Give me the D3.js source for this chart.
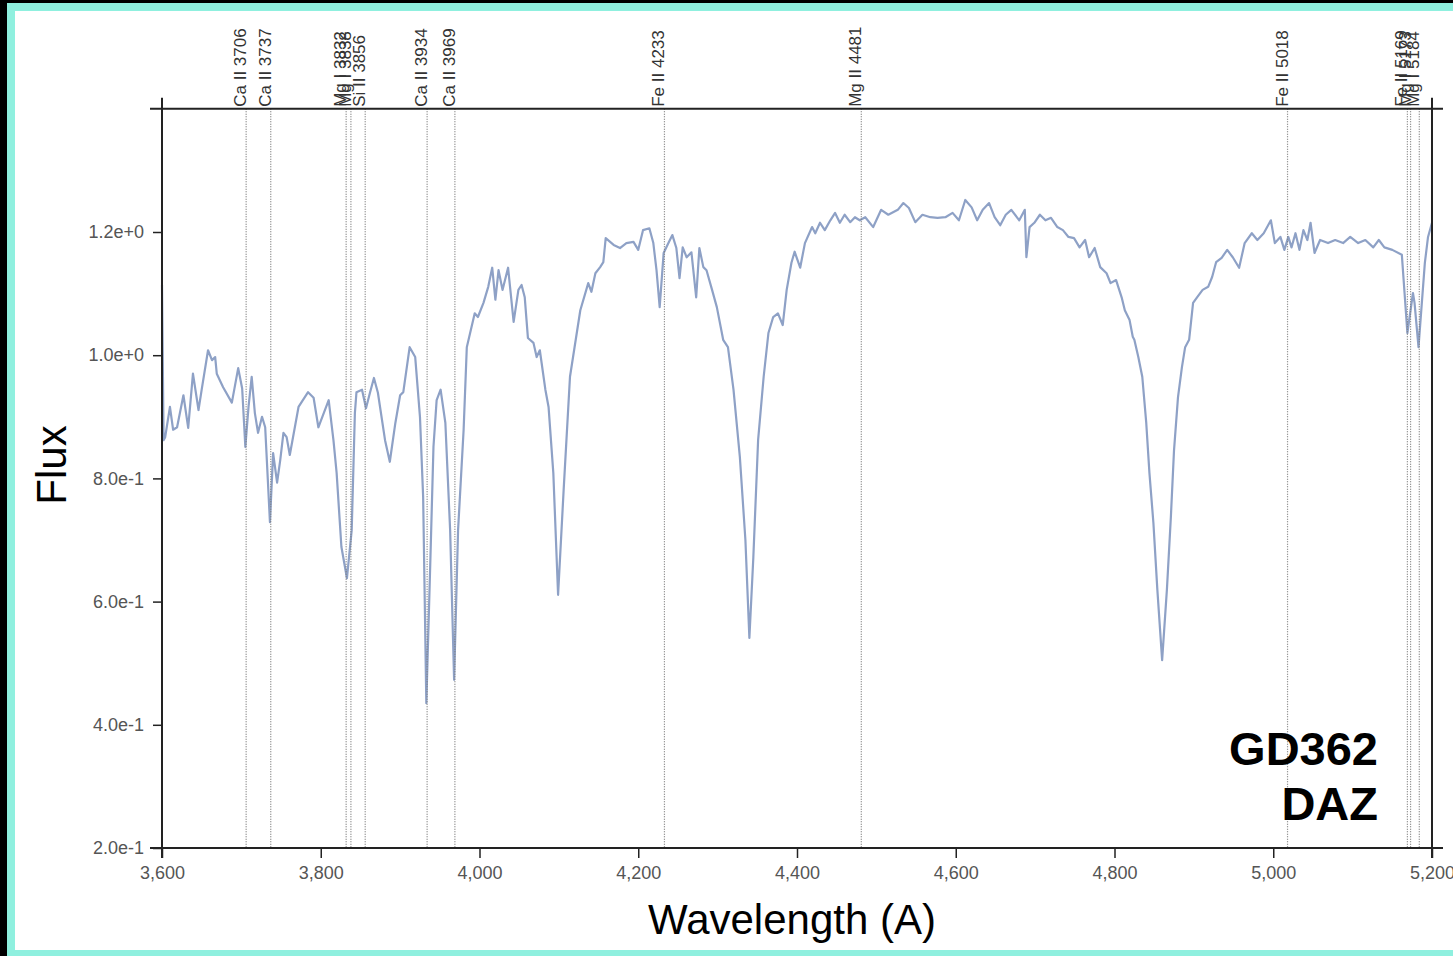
<!DOCTYPE html>
<html>
<head>
<meta charset="utf-8">
<script src="https://cdn.jsdelivr.net/npm/d3@7"></script>
<style>
  html, body { margin: 0; padding: 0; background: #000; }
  svg { display: block; }
  text { font-family: "Liberation Sans", Arial, Helvetica, sans-serif; }
</style>
</head>
<body>
<svg id="chart" width="1453" height="956"></svg>
<script>
// Spectrum of GD362 (wavelength in Angstrom, normalised flux)
const wavelength = [
  3600, 3602, 3604, 3610, 3614, 3619, 3627, 3633, 3639, 3646, 3650, 3658, 3663, 3667, 3669, 3677,
  3688, 3696, 3701, 3705, 3709, 3713, 3717, 3721, 3726, 3730, 3736, 3740, 3745, 3749, 3753, 3757,
  3761, 3772, 3784, 3791, 3797, 3810, 3816, 3820, 3826, 3833, 3839, 3843, 3845, 3852, 3857, 3862,
  3867, 3872, 3881, 3887, 3894, 3900, 3904, 3912, 3919, 3925, 3929, 3933, 3938, 3942, 3946, 3951,
  3957, 3963, 3968, 3973, 3980, 3984, 3994, 3998, 4005, 4011, 4016, 4020, 4024, 4029, 4036, 4043,
  4049, 4053, 4057, 4061, 4068, 4072, 4076, 4083, 4087, 4093, 4099, 4106, 4114, 4127, 4137, 4141,
  4146, 4152, 4156, 4159, 4169, 4177, 4185, 4194, 4200, 4206, 4214, 4219, 4223, 4227, 4232, 4238,
  4243, 4248, 4252, 4256, 4261, 4267, 4273, 4277, 4282, 4286, 4293, 4299, 4307, 4313, 4320, 4328,
  4335, 4340, 4345, 4351, 4358, 4364, 4370, 4376, 4382, 4387, 4393, 4397, 4404, 4410, 4419, 4423,
  4429, 4435, 4442, 4448, 4454, 4460, 4467, 4473, 4479, 4486, 4496, 4506, 4515, 4527, 4534, 4541,
  4549, 4558, 4568, 4577, 4587, 4596, 4604, 4612, 4620, 4627, 4634, 4642, 4649, 4656, 4663, 4670,
  4680, 4687, 4689, 4693, 4699, 4706, 4713, 4720, 4728, 4735, 4742, 4749, 4756, 4763, 4768, 4775,
  4782, 4790, 4795, 4802, 4809, 4813, 4819, 4823, 4825, 4830, 4835, 4840, 4844, 4849, 4854, 4860,
  4866, 4871, 4875, 4880, 4885, 4889, 4894, 4899, 4904, 4911, 4918, 4923, 4928, 4935, 4942, 4949,
  4957, 4964, 4973, 4980, 4988, 4997, 5002, 5009, 5014, 5019, 5023, 5028, 5033, 5038, 5043, 5047,
  5052, 5059, 5069, 5078, 5088, 5097, 5107, 5116, 5126, 5133, 5140, 5150, 5162, 5169, 5176, 5178,
  5183, 5191, 5195, 5200
];
const flux = [
  1.114, 0.862, 0.867, 0.916, 0.879, 0.883, 0.935, 0.882, 0.970, 0.911, 0.944, 1.008, 0.992, 0.997, 0.970, 0.948,
  0.923, 0.979, 0.946, 0.851, 0.916, 0.965, 0.906, 0.874, 0.900, 0.883, 0.729, 0.841, 0.793, 0.830, 0.874, 0.867,
  0.838, 0.916, 0.940, 0.931, 0.883, 0.927, 0.862, 0.809, 0.689, 0.638, 0.716, 0.906, 0.940, 0.944, 0.914, 0.939,
  0.963, 0.939, 0.862, 0.827, 0.890, 0.935, 0.940, 1.013, 0.997, 0.900, 0.770, 0.435, 0.663, 0.851, 0.927, 0.944,
  0.890, 0.716, 0.473, 0.716, 0.879, 1.013, 1.068, 1.062, 1.085, 1.111, 1.142, 1.090, 1.138, 1.106, 1.142, 1.054,
  1.106, 1.114, 1.094, 1.028, 1.020, 0.997, 1.008, 0.944, 0.916, 0.809, 0.611, 0.781, 0.965, 1.073, 1.117, 1.103,
  1.133, 1.143, 1.151, 1.190, 1.179, 1.174, 1.182, 1.184, 1.171, 1.203, 1.206, 1.182, 1.138, 1.078, 1.166, 1.182,
  1.195, 1.174, 1.125, 1.175, 1.159, 1.167, 1.094, 1.174, 1.143, 1.138, 1.106, 1.078, 1.025, 1.013, 0.944, 0.835,
  0.700, 0.541, 0.672, 0.862, 0.965, 1.036, 1.062, 1.068, 1.049, 1.106, 1.150, 1.168, 1.142, 1.182, 1.208, 1.198,
  1.215, 1.203, 1.219, 1.231, 1.215, 1.228, 1.216, 1.224, 1.219, 1.224, 1.208, 1.236, 1.228, 1.236, 1.247, 1.239,
  1.216, 1.228, 1.224, 1.223, 1.224, 1.231, 1.219, 1.252, 1.240, 1.219, 1.236, 1.247, 1.224, 1.211, 1.228, 1.236,
  1.219, 1.236, 1.159, 1.208, 1.215, 1.228, 1.219, 1.223, 1.208, 1.203, 1.192, 1.190, 1.175, 1.187, 1.159, 1.174,
  1.143, 1.133, 1.117, 1.122, 1.094, 1.073, 1.057, 1.030, 1.025, 0.997, 0.965, 0.890, 0.809, 0.728, 0.619, 0.505,
  0.619, 0.737, 0.846, 0.932, 0.981, 1.013, 1.025, 1.085, 1.094, 1.106, 1.111, 1.127, 1.151, 1.158, 1.171, 1.159,
  1.142, 1.182, 1.198, 1.187, 1.198, 1.219, 1.182, 1.192, 1.171, 1.192, 1.175, 1.198, 1.171, 1.203, 1.187, 1.215,
  1.166, 1.187, 1.182, 1.187, 1.182, 1.192, 1.182, 1.187, 1.175, 1.187, 1.175, 1.171, 1.163, 1.036, 1.101, 1.085,
  1.013, 1.150, 1.192, 1.215
];

// Identified absorption lines
const lineWavelengths = [3706, 3737, 3832, 3838, 3856, 3934, 3969, 4233, 4481, 5018, 5169, 5173, 5184];
const lineNames = [
  "Ca II 3706", "Ca II 3737", "Mg I 3832", "Mg I 3838", "Si II 3856", "Ca II 3934", "Ca II 3969",
  "Fe II 4233", "Mg II 4481", "Fe II 5018", "Fe II 5169", "Mg I 5173", "Mg I 5184"
];

const xTickValues = [3600, 3800, 4000, 4200, 4400, 4600, 4800, 5000, 5200];
const yTickValues = [0.2, 0.4, 0.6, 0.8, 1.0, 1.2];
const starLabel = ["GD362", "DAZ"];

const W = 1453, H = 956;
const svg = d3.select("#chart");

// Frame: dark edge, teal border, white panel
svg.append("rect").attr("width", W).attr("height", H).attr("fill", "#000");
svg.append("rect").attr("x", 7).attr("y", 3).attr("width", W - 7).attr("height", H - 3).attr("fill", "#8ff0df");
svg.append("rect").attr("x", 15).attr("y", 11).attr("width", W - 15).attr("height", 950 - 11).attr("fill", "#fff");

const x = d3.scaleLinear().domain([3600, 5200]).range([162, 1432]);
const y = d3.scaleLinear().domain([0.2, 1.4]).range([848, 108.8]);

const x0 = x.range()[0], x1 = x.range()[1];
const yb = y.range()[0], yt = y.range()[1];

// Spectrum
const pts = wavelength.map((w, i) => [w, flux[i]]);
svg.append("path")
  .datum(pts)
  .attr("fill", "none")
  .attr("stroke", "#8ea1c6")
  .attr("stroke-width", 2.2)
  .attr("stroke-linejoin", "round")
  .attr("d", d3.line().x(d => x(d[0])).y(d => y(d[1])));

// Dotted markers for line positions
svg.append("g").selectAll("line")
  .data(lineWavelengths)
  .join("line")
  .attr("x1", d => x(d)).attr("x2", d => x(d))
  .attr("y1", yt).attr("y2", yb)
  .attr("stroke", "#7a7a7a")
  .attr("stroke-width", 1.2)
  .attr("stroke-dasharray", "1,1.5");

svg.append("g").selectAll("text")
  .data(lineWavelengths)
  .join("text")
  .attr("transform", d => `translate(${x(d)},${yt - 2}) rotate(-90)`)
  .attr("font-size", 17)
  .attr("fill", "#333")
  .text((d, i) => lineNames[i]);

// Axes
const xAxis = svg.append("g")
  .attr("transform", `translate(0,${yb})`)
  .call(d3.axisBottom(x).tickValues(xTickValues).tickFormat(d3.format(",")).tickSize(10).tickSizeOuter(0).tickPadding(8));
const yAxis = svg.append("g")
  .attr("transform", `translate(${x0},0)`)
  .call(d3.axisLeft(y).tickValues(yTickValues).tickFormat(d3.format(".1e")).tickSize(9).tickSizeOuter(0).tickPadding(9));

[xAxis, yAxis].forEach(g => {
  g.select(".domain").remove();
  g.selectAll(".tick line").attr("stroke", "#222").attr("stroke-width", 1.5);
  g.selectAll(".tick text")
    .attr("font-family", "'Liberation Sans', Arial, sans-serif")
    .attr("font-size", 18)
    .attr("fill", "#555");
});

// Box with slightly overhanging corners
const frame = svg.append("g").attr("stroke", "#222").attr("stroke-width", 2);
frame.append("line").attr("x1", x0 - 12).attr("x2", x1 + 11).attr("y1", yb).attr("y2", yb);
frame.append("line").attr("x1", x0 - 12).attr("x2", x1 + 11).attr("y1", yt).attr("y2", yt);
frame.append("line").attr("x1", x0).attr("x2", x0).attr("y1", yt - 11).attr("y2", yb + 10);
frame.append("line").attr("x1", x1).attr("x2", x1).attr("y1", yt - 11).attr("y2", yb + 10);

// Axis titles
svg.append("text")
  .attr("transform", `translate(66,465) rotate(-90)`)
  .attr("text-anchor", "middle")
  .attr("font-size", 42)
  .attr("fill", "#000")
  .text("Flux");
svg.append("text")
  .attr("x", 792).attr("y", 934)
  .attr("text-anchor", "middle")
  .attr("font-size", 42)
  .attr("fill", "#000")
  .text("Wavelength (A)");

// Object name and spectral class
svg.append("g").selectAll("text")
  .data(starLabel)
  .join("text")
  .attr("x", 1378)
  .attr("y", (d, i) => 765 + i * 55)
  .attr("text-anchor", "end")
  .attr("font-size", 47)
  .attr("font-weight", "bold")
  .attr("fill", "#000")
  .text(d => d);
</script>
</body>
</html>
